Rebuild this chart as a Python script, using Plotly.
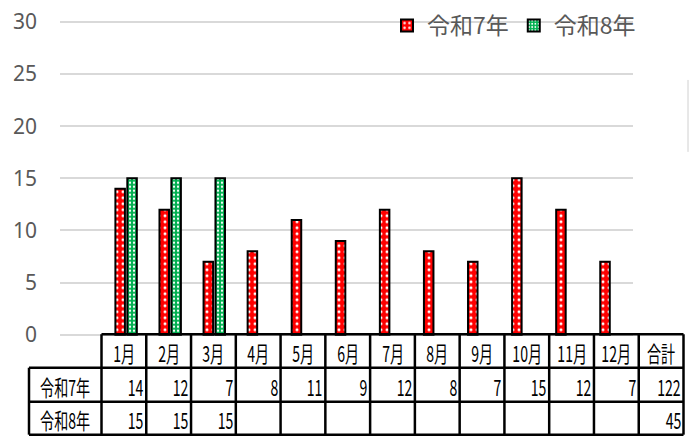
import plotly.graph_objects as go

# ---- data ----
months = ["1月", "2月", "3月", "4月", "5月", "6月", "7月", "8月", "9月", "10月", "11月", "12月"]
series_names = ["令和7年", "令和8年"]
r7_values = [14, 12, 7, 8, 11, 9, 12, 8, 7, 15, 12, 7]
r8_values = [15, 15, 15]
total_label = "合計"
totals = [122, 45]
y_ticks = [0, 5, 10, 15, 20, 25, 30]

# ---- geometry (pixels) ----
W, H = 695, 436
L, R = 60, 633            # plot area left / right
Y0_PX, Y30_PX = 335, 22   # pixel rows of y=0 and y=30
YMIN, YMAX = -0.12, 30.12
ppu = (Y0_PX - Y30_PX) / 30.0
BOT = Y0_PX + (0 - YMIN) * ppu      # bottom of axis domain in px
TOP = Y30_PX - (YMAX - 30) * ppu    # top of axis domain in px


def px(x):
    return (x - L) / (R - L)


def py(y):
    # paper spans pixel 0 .. BOT (top margin is zero)
    return (BOT - y) / BOT


fig = go.Figure()
x_pos = list(range(1, len(months) + 1))
fig.add_trace(go.Bar(
    x=x_pos, y=r7_values, name=series_names[0],
    marker=dict(color="#ff0000", line=dict(color="black", width=2),
                pattern=dict(shape=".", fgcolor="white", bgcolor="#ff0000",
                             size=6, solidity=0.2, fgopacity=1)),
))
fig.add_trace(go.Bar(
    x=x_pos[:len(r8_values)], y=r8_values, name=series_names[1],
    marker=dict(color="#00b050", line=dict(color="black", width=2),
                pattern=dict(shape=".", fgcolor="white", bgcolor="#00b050",
                             size=4, solidity=0.25, fgopacity=1)),
))

shapes = []
annotations = []
right_idx = []

# table layout
col_w = (683.5 - 101.5) / 13
col_edges = [101.5 + k * col_w for k in range(14)]
row_y = [334.5, 368, 402, 435]
lw = 2.5
shapes.append(dict(type="line", xref="paper", yref="paper",
                   x0=px(col_edges[0]), x1=px(col_edges[-1]), y0=py(row_y[0]), y1=py(row_y[0]),
                   line=dict(color="black", width=lw)))
for yy in row_y[1:]:
    shapes.append(dict(type="line", xref="paper", yref="paper",
                       x0=px(29), x1=px(col_edges[-1]), y0=py(yy), y1=py(yy),
                       line=dict(color="black", width=lw)))
shapes.append(dict(type="line", xref="paper", yref="paper",
                   x0=px(29), x1=px(29), y0=py(row_y[1]), y1=py(row_y[3]),
                   line=dict(color="black", width=lw)))
for xe in col_edges:
    shapes.append(dict(type="line", xref="paper", yref="paper",
                       x0=px(xe), x1=px(xe), y0=py(row_y[0]), y1=py(row_y[3]),
                       line=dict(color="black", width=lw)))
shapes.append(dict(type="line", xref="paper", yref="paper",
                   x0=px(688), x1=px(688), y0=py(80), y1=py(152),
                   line=dict(color="#d0d0d0", width=1)))

tfont = dict(family="Liberation Sans Narrow, Noto Sans CJK JP", size=22, color="black")
headers = months + [total_label]
for i, h in enumerate(headers):
    cx = (col_edges[i] + col_edges[i + 1]) / 2
    annotations.append(dict(x=px(cx), y=py((row_y[0] + row_y[1]) / 2 + 1), xref="paper", yref="paper",
                            text=h, showarrow=False, font=tfont, xanchor="center", yanchor="middle"))

rows = [r7_values + [None] * (12 - len(r7_values)) + [totals[0]],
        r8_values + [None] * (12 - len(r8_values)) + [totals[1]]]
for r, (name, vals) in enumerate(zip(series_names, rows)):
    yc = (row_y[r + 1] + row_y[r + 2]) / 2 + 1
    annotations.append(dict(x=px((29 + 101.5) / 2), y=py(yc), xref="paper", yref="paper",
                            text=name, showarrow=False, font=tfont, xanchor="center", yanchor="middle"))
    for i, v in enumerate(vals):
        if v is None:
            continue
        right_idx.append(len(annotations))
        annotations.append(dict(x=px(col_edges[i + 1] - 1), y=py(yc), xref="paper", yref="paper",
                                text=str(v), showarrow=False, font=tfont, xanchor="right", yanchor="middle"))

fig.update_layout(
    width=W, height=H,
    margin=dict(l=L, r=W - R, t=0, b=H - BOT, pad=0, autoexpand=False),
    paper_bgcolor="white", plot_bgcolor="white",
    barmode="group", bargap=0.46, bargroupgap=0.2,
    showlegend=True,
    legend=dict(orientation="h", x=px(387), y=py(4), xanchor="left", yanchor="top",
                bgcolor="rgba(0,0,0,0)", font=dict(family="Noto Sans CJK JP", size=23, color="#595959"),
                itemwidth=30, traceorder="normal"),
    xaxis=dict(range=[-0.5, 12.5], showticklabels=False, showgrid=False, zeroline=False,
               showline=False, fixedrange=True, automargin=False),
    yaxis=dict(range=[YMIN, YMAX], domain=[0, (BOT - TOP) / BOT], tickvals=y_ticks,
               showgrid=True, gridcolor="#d9d9d9", gridwidth=1.5,
               zeroline=False, showline=False, automargin=False,
               tickfont=dict(family="Noto Sans", size=21, color="#595959"),
               ticklabelstandoff=22),
    shapes=shapes, annotations=annotations,
)

post = """
document.body.style.margin='0';
document.body.style.overflow='hidden';
var RIGHT = %s;
var gd = document.getElementById('{plot_id}');
gd.querySelectorAll('g.annotation').forEach(function(g){
  var i = +g.getAttribute('data-index');
  var t = g.querySelector('text');
  if (!t) return;
  t.style.transformBox = 'fill-box';
  t.style.transformOrigin = (RIGHT.indexOf(i) >= 0) ? 'right center' : 'center center';
  t.style.transform = 'scaleX(0.64)';
});
""" % str(right_idx)

fig.write_html("out.html", post_script=post, config={"displayModeBar": False})
